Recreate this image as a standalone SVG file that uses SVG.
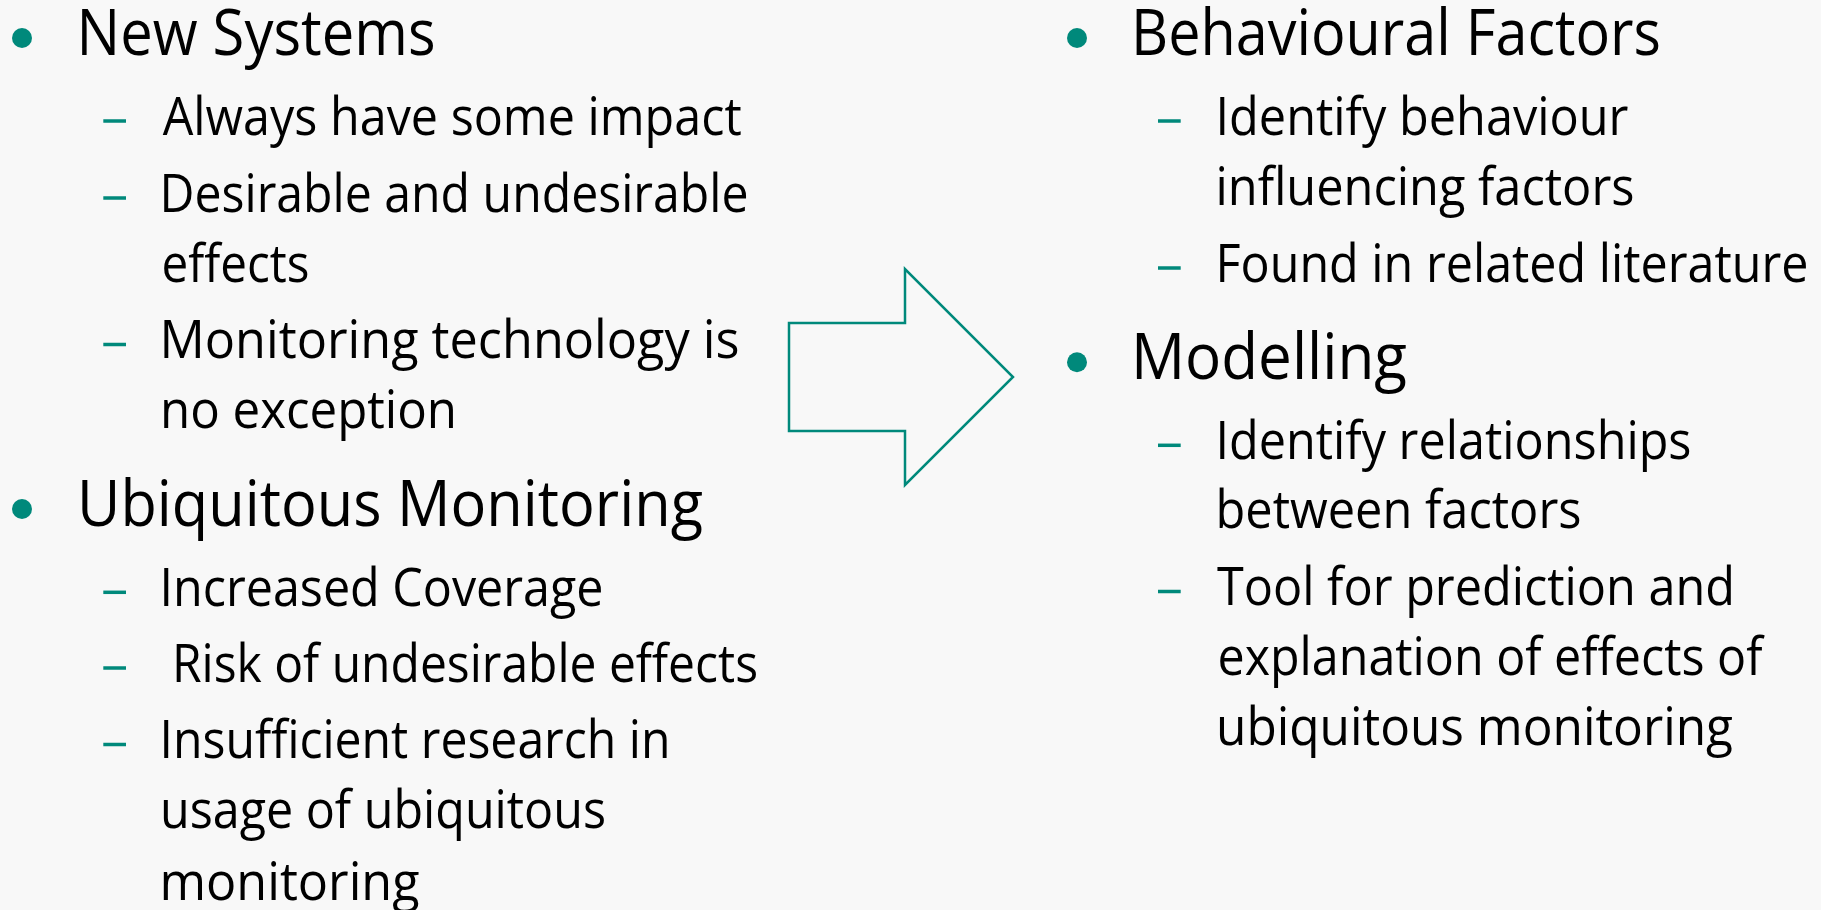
<svg xmlns="http://www.w3.org/2000/svg" width="1821" height="910" viewBox="0 0 1821 910">
<style>
.h{font-family:"Open Sans","Noto Sans",sans-serif;font-size:64px;fill:#000}
.s{font-family:"Open Sans","Noto Sans",sans-serif;font-size:53px;fill:#000}
.dot{fill:#00897b}
.dash{stroke:#00897b;stroke-width:3.5}
.arrow{fill:none;stroke:#00897b;stroke-width:2.5;stroke-linejoin:miter}
</style>
<rect width="1821" height="910" fill="#f8f8f8"/>
<g id="left-new-systems">
<circle class="dot" cx="22" cy="38" r="10"/>
<text class="h" x="76.5" y="55" textLength="359" lengthAdjust="spacingAndGlyphs">New Systems</text>
<line class="dash" x1="103.3" y1="121" x2="126" y2="121"/>
<text class="s" x="162.7" y="135" textLength="579" lengthAdjust="spacingAndGlyphs">Always have some impact</text>
<line class="dash" x1="103.3" y1="198" x2="126" y2="198"/>
<text class="s" x="159.5" y="211.5" textLength="589" lengthAdjust="spacingAndGlyphs">Desirable and undesirable</text>
<text class="s" x="161.5" y="281.5" textLength="148" lengthAdjust="spacingAndGlyphs">effects</text>
<line class="dash" x1="103.3" y1="344.5" x2="126" y2="344.5"/>
<text class="s" x="159.5" y="358" textLength="580" lengthAdjust="spacingAndGlyphs">Monitoring  technology is</text>
<text class="s" x="160" y="428" textLength="297" lengthAdjust="spacingAndGlyphs">no exception</text>
</g>
<g id="left-ubiquitous">
<circle class="dot" cx="22" cy="509" r="10"/>
<text class="h" x="77" y="525.5" textLength="626" lengthAdjust="spacingAndGlyphs">Ubiquitous Monitoring</text>
<line class="dash" x1="103.3" y1="592.3" x2="126" y2="592.3"/>
<text class="s" x="159.5" y="606" textLength="444" lengthAdjust="spacingAndGlyphs">Increased Coverage</text>
<line class="dash" x1="103.3" y1="668" x2="126" y2="668"/>
<text class="s" x="172" y="681.7" textLength="586" lengthAdjust="spacingAndGlyphs">Risk of undesirable effects</text>
<line class="dash" x1="103.3" y1="744.5" x2="126" y2="744.5"/>
<text class="s" x="159.5" y="758.3" textLength="511" lengthAdjust="spacingAndGlyphs">Insufficient research in</text>
<text class="s" x="160" y="828.3" textLength="446" lengthAdjust="spacingAndGlyphs">usage of ubiquitous</text>
<text class="s" x="159.5" y="900" textLength="260" lengthAdjust="spacingAndGlyphs">monitoring</text>
</g>
<g id="right-behavioural">
<circle class="dot" cx="1077" cy="38" r="10"/>
<text class="h" x="1131" y="54.5" textLength="530" lengthAdjust="spacingAndGlyphs">Behavioural Factors</text>
<line class="dash" x1="1158" y1="121" x2="1180.7" y2="121"/>
<text class="s" x="1215.5" y="135" textLength="413" lengthAdjust="spacingAndGlyphs">Identify behaviour</text>
<text class="s" x="1215.5" y="205" textLength="419" lengthAdjust="spacingAndGlyphs">influencing factors</text>
<line class="dash" x1="1158" y1="268" x2="1180.7" y2="268"/>
<text class="s" x="1215.5" y="281.7" textLength="593" lengthAdjust="spacingAndGlyphs">Found in related literature</text>
</g>
<g id="right-modelling">
<circle class="dot" cx="1077" cy="362.3" r="10"/>
<text class="h" x="1131" y="378.5" textLength="276" lengthAdjust="spacingAndGlyphs">Modelling</text>
<line class="dash" x1="1158" y1="445.3" x2="1180.7" y2="445.3"/>
<text class="s" x="1215.5" y="459" textLength="476" lengthAdjust="spacingAndGlyphs">Identify relationships</text>
<text class="s" x="1215.5" y="528.3" textLength="366" lengthAdjust="spacingAndGlyphs">between factors</text>
<line class="dash" x1="1158" y1="591.5" x2="1180.7" y2="591.5"/>
<text class="s" x="1217" y="605" textLength="518" lengthAdjust="spacingAndGlyphs">Tool for prediction and</text>
<text class="s" x="1217.5" y="675" textLength="545" lengthAdjust="spacingAndGlyphs">explanation of effects of</text>
<text class="s" x="1216" y="745" textLength="517" lengthAdjust="spacingAndGlyphs">ubiquitous monitoring</text>
</g>
<g id="connectors">
<polygon class="arrow" points="789,323 905,323 905,269 1013,377 905,485 905,431 789,431"/>
</g>
</svg>
